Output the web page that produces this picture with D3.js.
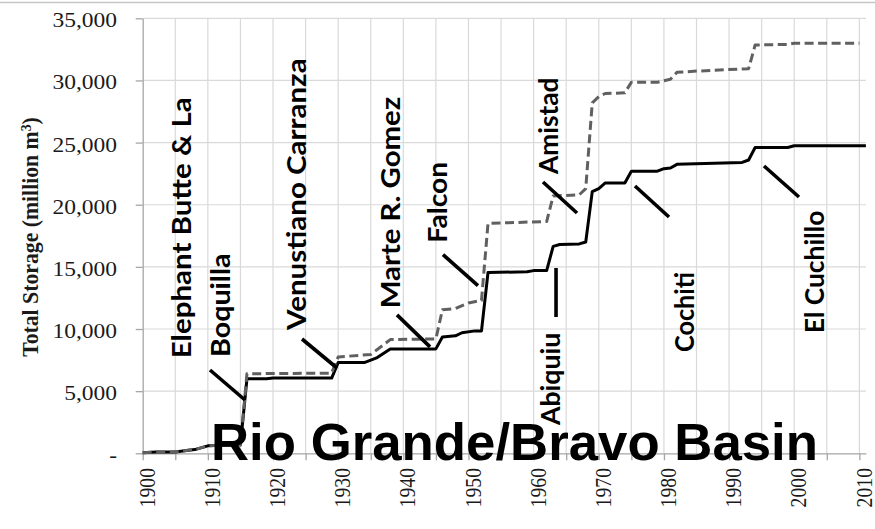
<!DOCTYPE html>
<html>
<head>
<meta charset="utf-8">
<script src="https://cdn.jsdelivr.net/npm/d3@7"></script>
<style>
body { margin: 0; background: #fff; }
figure { margin: 0; }
</style>
</head>
<body>
<figure id="storage"></figure>
<script>
// cumulative storage, only the years where the curve bends (million m3)
const blackYears = [1900, 1902, 1905, 1907, 1908, 1910, 1912, 1915, 1916, 1919, 1920, 1929, 1930, 1934, 1936, 1938, 1945, 1946, 1948, 1949, 1951, 1952, 1953, 1959, 1960, 1962, 1963, 1964, 1967, 1968, 1969, 1970, 1971, 1974, 1975, 1979, 1980, 1981, 1982, 1992, 1993, 1994, 1999, 2000, 2011];
const blackStorage = [50, 100, 100, 250, 300, 600, 650, 700, 6000, 6000, 6050, 6050, 7300, 7300, 7700, 8400, 8400, 9350, 9450, 9700, 9850, 9850, 14550, 14600, 14700, 14700, 16650, 16800, 16850, 17000, 21050, 21300, 21750, 21750, 22700, 22700, 22900, 22950, 23250, 23400, 23600, 24600, 24600, 24750, 24750];

const grayYears = [1900, 1902, 1905, 1907, 1908, 1910, 1912, 1915, 1916, 1929, 1930, 1935, 1938, 1945, 1946, 1948, 1950, 1952, 1953, 1962, 1963, 1967, 1968, 1969, 1970, 1971, 1974, 1975, 1979, 1981, 1982, 1985, 1993, 1994, 1999, 2000, 2010];
const grayStorage = [50, 100, 100, 250, 300, 600, 650, 650, 6400, 6450, 7750, 7950, 9150, 9200, 11550, 11650, 12100, 12300, 18500, 18650, 20700, 20800, 21300, 28200, 28700, 28950, 29000, 29850, 29850, 30100, 30650, 30750, 30950, 32850, 32900, 33000, 33000];

const yTicks = [0, 5000, 10000, 15000, 20000, 25000, 30000, 35000];
const gridYears = d3.range(1900, 2011, 5);
const labelYears = d3.range(1900, 2011, 10);

// dam labels: year of the label, storage where it starts and ends
const damNames = ["Elephant Butte & La", "Boquilla", "Venustiano Carranza", "Marte R. Gomez", "Falcon", "Amistad", "Abiquiu", "Cochiti", "El Cuchillo"];
const damYear = [1905.94, 1911.86, 1923.53, 1937.91, 1945.2, 1962.26, 1962.47, 1983.16, 2003.04];
const damFrom = [7643, 7748, 9920, 11666, 16944, 22472, 2277, 8150, 9655];
const damTo = [28643, 16091, 31781, 28691, 23461, 30236, 9703, 14587, 19519];

// leader lines [year, storage]
const leaderStart = [[1910.33, 6702], [1924.45, 9196], [1939.03, 11140], [1946.09, 15989], [1961.44, 21828], [1963.44, 14910], [1975.56, 21506], [1995.36, 23115]];
const leaderEnd = [[1915.7, 4288], [1929.82, 6863], [1944.1, 8566], [1951.46, 13495], [1966.66, 19334], [1963.44, 10967], [1980.78, 19012], [2000.73, 20621]];

let dimensions = {
	width: 875,
	height: 529,
	margin: {
		top: 18.3,
		right: 9.1,
		bottom: 75.7,
		left: 142.7,
	},
};

var svg = d3.select("figure#storage")
	.append("svg")
	.attr("width", dimensions.width)
	.attr("height", dimensions.height)
	.style("display", "block");

var xScale = d3.scaleLinear()
	.domain([1900, 2011])
	.range([dimensions.margin.left, dimensions.width - dimensions.margin.right]);

var yScale = d3.scaleLinear()
	.domain([0, 35000])
	.range([dimensions.height - dimensions.margin.bottom, dimensions.margin.top]);

var squeeze = 0.85; // the excel part of the picture is squashed vertically

// outer border of the chart
svg.append("line")
	.attr("x1", 0).attr("x2", dimensions.width)
	.attr("y1", 2.5).attr("y2", 2.5)
	.attr("stroke", "#c6c6c6")
	.attr("stroke-width", 1.5);

// gridlines
svg.append("g")
	.selectAll("line")
	.data(gridYears.slice(1))
	.enter()
	.append("line")
	.attr("x1", d => xScale(d)).attr("x2", d => xScale(d))
	.attr("y1", yScale(35000)).attr("y2", yScale(0))
	.attr("stroke", "#d9d9d9")
	.attr("stroke-width", 1.2);

svg.append("g")
	.selectAll("line")
	.data(yTicks.slice(1))
	.enter()
	.append("line")
	.attr("x1", xScale(1900)).attr("x2", xScale(2011))
	.attr("y1", d => yScale(d)).attr("y2", d => yScale(d))
	.attr("stroke", "#d9d9d9")
	.attr("stroke-width", 1.2);

// axes
var xAxis = svg.append("g")
	.attr("transform", `translate(0,${yScale(0)})`)
	.call(d3.axisBottom(xScale).tickValues(gridYears).tickSize(7).tickSizeOuter(0).tickFormat(""));

var yAxis = svg.append("g")
	.attr("transform", `translate(${xScale(1900)},0)`)
	.call(d3.axisLeft(yScale).tickValues(yTicks).tickSize(7).tickSizeOuter(0).tickFormat(""));

svg.selectAll(".domain, .tick line")
	.attr("stroke", "#a6a6a6")
	.attr("stroke-width", 1.3);

// tick labels
svg.append("g")
	.selectAll("text")
	.data(yTicks)
	.enter()
	.append("text")
	.attr("transform", d => `translate(117,${yScale(d) + 2}) scale(1,${squeeze})`)
	.attr("dy", "0.35em")
	.attr("text-anchor", "end")
	.attr("font-family", "'Liberation Serif', 'Times New Roman', serif")
	.attr("font-size", 23.5)
	.attr("fill", "#1a1a1a")
	.text(d => d === 0 ? "-" : d3.format(",")(d));

svg.append("g")
	.selectAll("text")
	.data(labelYears)
	.enter()
	.append("text")
	.attr("transform", d => `translate(${xScale(d) + 4},468) scale(1,${squeeze}) rotate(-90)`)
	.attr("dy", "0.35em")
	.attr("text-anchor", "end")
	.attr("font-family", "'Liberation Serif', 'Times New Roman', serif")
	.attr("font-size", 23.2)
	.attr("fill", "#1a1a1a")
	.text(d => d);

// y title
var yTitle = svg.append("text")
	.attr("transform", `translate(29.5,237) scale(1,${squeeze}) rotate(-90)`)
	.attr("dy", "0.35em")
	.attr("text-anchor", "middle")
	.attr("font-family", "'Liberation Serif', 'Times New Roman', serif")
	.attr("font-weight", "bold")
	.attr("font-size", 23.6)
	.attr("fill", "#1a1a1a")
	.attr("textLength", 282)
	.attr("lengthAdjust", "spacingAndGlyphs");
yTitle.append("tspan").text("Total Storage (million m");
yTitle.append("tspan").attr("font-size", 15).attr("baseline-shift", "45%").text("3");
yTitle.append("tspan").text(")");

// storage lines
var line = d3.line()
	.x(d => xScale(d[0]))
	.y(d => yScale(d[1]));

svg.append("path")
	.datum(d3.zip(blackYears, blackStorage))
	.attr("d", line)
	.attr("fill", "none")
	.attr("stroke", "#000")
	.attr("stroke-width", 3)
	.attr("stroke-linejoin", "round");

svg.append("path")
	.datum(d3.zip(grayYears, grayStorage))
	.attr("d", line)
	.attr("fill", "none")
	.attr("stroke", "#606060")
	.attr("stroke-width", 3)
	.attr("stroke-dasharray", "9,4.5")
	.attr("stroke-linejoin", "round");

// leader lines
svg.append("g")
	.selectAll("line")
	.data(d3.zip(leaderStart, leaderEnd))
	.enter()
	.append("line")
	.attr("x1", d => xScale(d[0][0])).attr("y1", d => yScale(d[0][1]))
	.attr("x2", d => xScale(d[1][0])).attr("y2", d => yScale(d[1][1]))
	.attr("stroke", "#000")
	.attr("stroke-width", 3.6);

// dam names
svg.append("g")
	.selectAll("text")
	.data(damNames)
	.enter()
	.append("text")
	.attr("transform", (d, i) => `translate(${xScale(damYear[i])},${yScale(damFrom[i])}) rotate(-90)`)
	.attr("dy", "0.36em")
	.attr("font-family", "Lato, 'Open Sans', sans-serif")
	.attr("font-weight", "bold")
	.attr("font-size", 27.5)
	.attr("fill", "#000")
	.attr("textLength", (d, i) => yScale(damFrom[i]) - yScale(damTo[i]))
	.attr("lengthAdjust", "spacingAndGlyphs")
	.text(d => d);

// basin title
svg.append("text")
	.attr("x", 211)
	.attr("y", 460)
	.attr("font-family", "'Liberation Sans', Arial, sans-serif")
	.attr("font-weight", "bold")
	.attr("font-size", 51.5)
	.attr("fill", "#000")
	.attr("textLength", 607)
	.attr("lengthAdjust", "spacingAndGlyphs")
	.text("Rio Grande/Bravo Basin");
</script>
</body>
</html>
